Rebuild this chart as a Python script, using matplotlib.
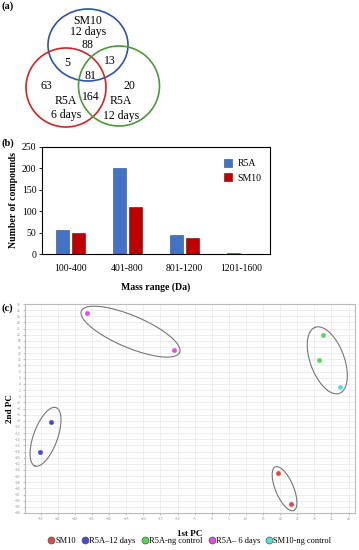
import numpy as np
import matplotlib
matplotlib.use("Agg")
import matplotlib.pyplot as plt
from matplotlib.patches import Ellipse
from matplotlib.lines import Line2D

plt.rcParams['font.family'] = ['Liberation Serif', 'DejaVu Serif']

# (a) Venn counts
venn_counts = {"SM10": 88, "R5A6": 63, "R5A12": 20, "SM10_R5A6": 5,
               "SM10_R5A12": 13, "R5A6_R5A12": 164, "all": 81}

# (b) bar chart
mass_ranges = ["100-400", "401-800", "801-1200", "1201-1600"]
r5a_counts = [55, 202, 45, 2]
sm10_counts = [50, 110, 38, 0]

# (c) PCA scores
pca_groups = ["SM10", "R5A–12 days", "R5A-ng control", "R5A– 6 days", "SM10-ng control"]
pca_colors = ["#e04848", "#4848d8", "#50dc50", "#e050e0", "#50e0e0"]
pc1 = [19.4, 23.2, -47.0, -50.2, 32.5, 31.3, -36.5, -11.0, 37.6]
pc2 = [-25.1, -35.1, -8.3, -18.1, 20.0, 11.9, 27.0, 15.0, 3.1]
pca_label = [0, 0, 1, 1, 2, 2, 3, 3, 4]
# clusters circled in the plot (indices into pc1/pc2)
clusters = [[0, 1], [2, 3], [4, 5, 8], [6, 7]]

W, H = 359, 550
fig = plt.figure(figsize=(W / 100, H / 100), dpi=100)

# background axes in pixel units for the venn and panel letters
bg = fig.add_axes([0, 0, 1, 1])
bg.set_xlim(0, W)
bg.set_ylim(H, 0)
bg.axis("off")

# ---- (a) venn ----
bg.add_patch(Ellipse((88, 45), 80, 72, fill=False, ec="#2c55a8", lw=1.2))
bg.add_patch(Ellipse((66, 87.5), 80, 79, fill=False, ec="#d02424", lw=1.2))
bg.add_patch(Ellipse((119, 86), 81, 80, fill=False, ec="#4a9a3a", lw=1.2))
tkw = dict(ha="center", va="center", fontsize=8.5)
bg.text(88, 20.5, "SM10", **tkw)
bg.text(88, 32, "12 days", **tkw)
bg.text(88, 45, str(venn_counts["SM10"]), **tkw)
bg.text(67, 63, str(venn_counts["SM10_R5A6"]), **tkw)
bg.text(110, 61, str(venn_counts["SM10_R5A12"]), **tkw)
bg.text(90, 76, str(venn_counts["all"]), **tkw)
bg.text(46, 86, str(venn_counts["R5A6"]), **tkw)
bg.text(129, 86, str(venn_counts["R5A12"]), **tkw)
bg.text(91, 97, str(venn_counts["R5A6_R5A12"]), **tkw)
bg.text(66, 101, "R5A", **tkw)
bg.text(66, 115, "6 days", **tkw)
bg.text(121, 101, "R5A", **tkw)
bg.text(121, 116, "12 days", **tkw)

for lab, y in [("(a)", 6), ("(b)", 143), ("(c)", 308)]:
    bg.text(2, y, lab, ha="left", va="center", fontsize=7.5, fontweight="bold")

# ---- (b) bars ----
axb = fig.add_axes([42 / W, 1 - 254 / H, 228 / W, 107 / H])
x = np.arange(len(mass_ranges))
axb.bar(x - 0.135, r5a_counts, 0.23, color="#4472c4", ec="#2a4a8a", lw=0.4, label="R5A")
axb.bar(x + 0.135, sm10_counts, 0.23, color="#c00000", ec="#7a0000", lw=0.4, label="SM10")
axb.set_xlim(-0.5, 3.5)
axb.set_ylim(0, 250)
axb.set_yticks(range(0, 251, 50))
axb.set_xticks(x)
axb.set_xticklabels(mass_ranges)
axb.tick_params(labelsize=7, length=2, width=0.6, pad=2)
axb.tick_params(axis="x", length=0, pad=7)
for s in axb.spines.values():
    s.set_linewidth(0.8)
axb.set_xlabel("Mass range (Da)", fontsize=7, fontweight="bold", labelpad=7)
axb.set_ylabel("Number of compounds", fontsize=7, fontweight="bold", labelpad=3)
axb.legend(loc="upper right", frameon=False, fontsize=7, handlelength=0.9,
           handleheight=0.9, handletextpad=0.5, labelspacing=0.5,
           bbox_to_anchor=(1.0, 0.97))

# ---- (c) PCA ----
axc = fig.add_axes([25 / W, 1 - 513 / H, 330 / W, 209 / H])
x0, x1, y0, y1 = -54.6, 41.9, -38, 30
axc.set_xlim(x0, x1)
axc.set_ylim(y0, y1)
axc.set_xticks(range(-50, 41, 5))
axc.set_yticks(range(-38, 31, 2))
axc.grid(True, color="#e8e8e8", lw=0.5)
axc.set_axisbelow(True)
axc.tick_params(labelsize=2.5, length=1.5, width=0.4, colors="#888888", pad=1.5)
for s in axc.spines.values():
    s.set_color("#bbbbbb")
    s.set_linewidth(0.8)

pc1 = np.array(pc1)
pc2 = np.array(pc2)
for i, name in enumerate(pca_groups):
    m = np.array(pca_label) == i
    axc.plot(pc1[m], pc2[m], "o", ms=3.2, color=pca_colors[i], mec=pca_colors[i],
             mew=0.3, zorder=3)

# ellipses round the clusters, built in inch space so they stay round
axw, axh = 330 / 100, 209 / 100
pads = [0.07, 0.15, 0.06, 0.06]     # extra length each end (in)
semis = [0.09, 0.12, 0.17, 0.16]   # semi minor (in)
for idx, pad, b in zip(clusters, pads, semis):
    px = (pc1[idx] - x0) / (x1 - x0) * axw
    py = (pc2[idx] - y0) / (y1 - y0) * axh
    pts = np.column_stack([px, py])
    c = pts.mean(axis=0)
    u, sv, vt = np.linalg.svd(pts - c)
    d = vt[0]
    proj = (pts - c) @ d
    a = np.abs(proj).max() + pad
    n = np.array([-d[1], d[0]])
    t = np.linspace(0, 2 * np.pi, 200)
    e = c + np.outer(a * np.cos(t), d) + np.outer(b * np.sin(t), n)
    axc.plot(e[:, 0] / axw, e[:, 1] / axh, color="#777777", lw=0.8,
             transform=axc.transAxes, zorder=2)

axc.set_xlabel("1st PC", fontsize=6.5, fontweight="bold", labelpad=6)
axc.set_ylabel("2nd PC", fontsize=6.5, fontweight="bold", labelpad=1)

handles = [Line2D([], [], ls="", marker="o", ms=5, color=c, mec="#555555", mew=0.5)
           for c in pca_colors]
fig.legend(handles, pca_groups, loc="center", bbox_to_anchor=(190 / W, 1 - 541 / H),
           ncol=5, frameon=False, fontsize=6, handlelength=0.6, handletextpad=0.2,
           columnspacing=0.8, borderpad=0)

plt.savefig("out.png", dpi=100)
